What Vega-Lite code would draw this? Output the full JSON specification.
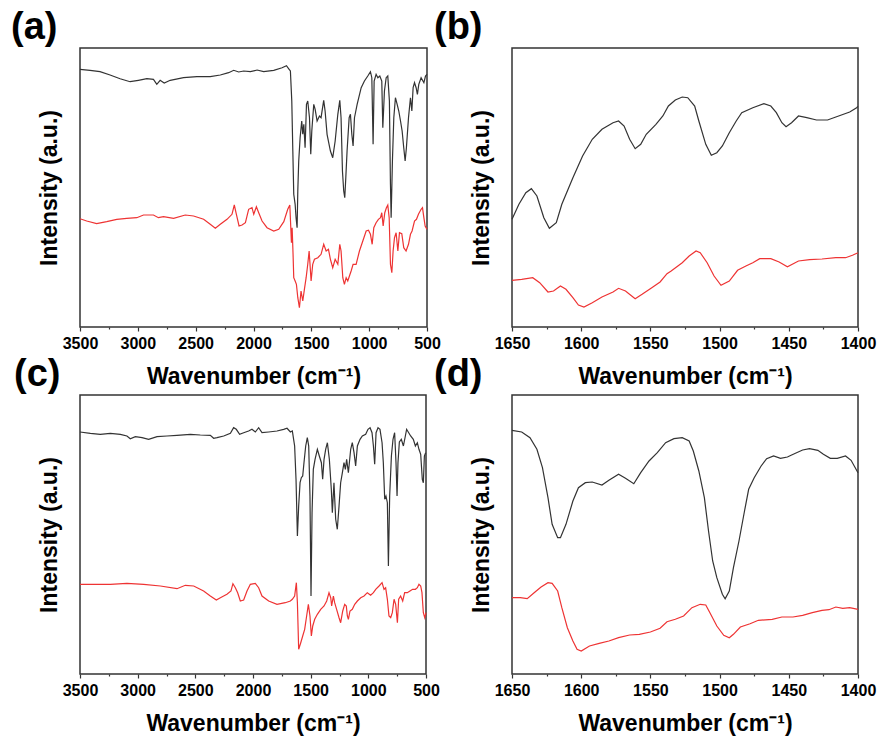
{
"$schema": "https://vega.github.io/schema/vega-lite/v6.json",
"padding": {"left": 10, "top": 8, "right": 5, "bottom": 5},
"background": "white",
"config": {
  "font": "Liberation Sans",
  "view": {"stroke": "#333333", "strokeWidth": 1.5},
  "axis": {"grid": false, "domain": false, "labelColor": "black", "titleColor": "black", "tickColor": "#333333", "tickWidth": 1.2},
  "axisX": {"labelFontSize": 16, "labelFontWeight": "bold", "labelPadding": 4, "titleFontSize": 23, "titleFontWeight": "bold", "titlePadding": 14, "labelFlush": false, "labelOverlap": false},
  "axisY": {"labels": false, "ticks": false, "titleFontSize": 23, "titleFontWeight": "bold", "titlePadding": 19},
  "title": {"fontSize": 38, "fontWeight": "bold", "color": "black", "anchor": "start", "frame": "group", "dy": 3},
  "line": {"strokeWidth": 1.2, "clip": true}
},
"datasets": {
"a": [
{"s":"k","w":3500,"y":257.7},{"s":"k","w":3413,"y":256.7},{"s":"k","w":3327,"y":255.3},{"s":"k","w":3240,"y":252},{"s":"k","w":3153,"y":248.3},{"s":"k","w":3067,"y":245.3},{"s":"k","w":2995,"y":246.7},{"s":"k","w":2922,"y":248.3},{"s":"k","w":2865,"y":247.7},{"s":"k","w":2836,"y":242.7},{"s":"k","w":2807,"y":246.7},{"s":"k","w":2772,"y":244},{"s":"k","w":2720,"y":246.7},{"s":"k","w":2605,"y":249.3},{"s":"k","w":2489,"y":250.3},{"s":"k","w":2374,"y":250.3},{"s":"k","w":2287,"y":252},{"s":"k","w":2215,"y":254.3},{"s":"k","w":2171,"y":256.7},{"s":"k","w":2128,"y":255},{"s":"k","w":2085,"y":256},{"s":"k","w":2027,"y":255.3},{"s":"k","w":1969,"y":257},{"s":"k","w":1912,"y":255.3},{"s":"k","w":1825,"y":256.7},{"s":"k","w":1753,"y":259.3},{"s":"k","w":1715,"y":261.3},{"s":"k","w":1692,"y":257.7},{"s":"k","w":1681,"y":256},{"s":"k","w":1669,"y":226},{"s":"k","w":1660,"y":176},{"s":"k","w":1652,"y":132.7},{"s":"k","w":1640,"y":122.7},{"s":"k","w":1632,"y":109.3},{"s":"k","w":1623,"y":99.3},{"s":"k","w":1617,"y":136},{"s":"k","w":1609,"y":166},{"s":"k","w":1597,"y":189.3},{"s":"k","w":1583,"y":206},{"s":"k","w":1574,"y":192.7},{"s":"k","w":1565,"y":202.7},{"s":"k","w":1554,"y":179.3},{"s":"k","w":1542,"y":222.7},{"s":"k","w":1531,"y":226},{"s":"k","w":1516,"y":209.3},{"s":"k","w":1505,"y":172.7},{"s":"k","w":1496,"y":196},{"s":"k","w":1479,"y":222.7},{"s":"k","w":1467,"y":217.7},{"s":"k","w":1450,"y":206},{"s":"k","w":1430,"y":211},{"s":"k","w":1416,"y":209.3},{"s":"k","w":1393,"y":226.7},{"s":"k","w":1381,"y":216},{"s":"k","w":1364,"y":192.7},{"s":"k","w":1335,"y":176},{"s":"k","w":1315,"y":169.3},{"s":"k","w":1294,"y":186},{"s":"k","w":1271,"y":212.7},{"s":"k","w":1254,"y":226.7},{"s":"k","w":1243,"y":209.3},{"s":"k","w":1231,"y":156},{"s":"k","w":1220,"y":136},{"s":"k","w":1211,"y":129.3},{"s":"k","w":1202,"y":149.3},{"s":"k","w":1191,"y":176},{"s":"k","w":1173,"y":209.3},{"s":"k","w":1162,"y":212.7},{"s":"k","w":1150,"y":192.7},{"s":"k","w":1139,"y":181},{"s":"k","w":1127,"y":209.3},{"s":"k","w":1104,"y":222.7},{"s":"k","w":1069,"y":239.3},{"s":"k","w":1041,"y":246},{"s":"k","w":1012,"y":251},{"s":"k","w":989,"y":255.3},{"s":"k","w":977,"y":249.3},{"s":"k","w":966,"y":182.7},{"s":"k","w":957,"y":246},{"s":"k","w":940,"y":252.7},{"s":"k","w":925,"y":249.3},{"s":"k","w":908,"y":251},{"s":"k","w":891,"y":246},{"s":"k","w":882,"y":199.3},{"s":"k","w":868,"y":236},{"s":"k","w":853,"y":249.3},{"s":"k","w":839,"y":251},{"s":"k","w":825,"y":226},{"s":"k","w":816,"y":142.7},{"s":"k","w":810,"y":109.3},{"s":"k","w":799,"y":166},{"s":"k","w":787,"y":209.3},{"s":"k","w":773,"y":229.3},{"s":"k","w":758,"y":222.7},{"s":"k","w":744,"y":216},{"s":"k","w":729,"y":206},{"s":"k","w":715,"y":196},{"s":"k","w":701,"y":179.3},{"s":"k","w":689,"y":166},{"s":"k","w":678,"y":179.3},{"s":"k","w":660,"y":209.3},{"s":"k","w":643,"y":229.3},{"s":"k","w":631,"y":216},{"s":"k","w":620,"y":239.3},{"s":"k","w":608,"y":244.3},{"s":"k","w":594,"y":239.3},{"s":"k","w":583,"y":232.7},{"s":"k","w":571,"y":242.7},{"s":"k","w":551,"y":249.3},{"s":"k","w":527,"y":244.3},{"s":"k","w":513,"y":251},{"s":"k","w":500,"y":252.7},
{"s":"r","w":3500,"y":108.3},{"s":"r","w":3442,"y":106},{"s":"r","w":3356,"y":103.3},{"s":"r","w":3269,"y":105.3},{"s":"r","w":3182,"y":107.7},{"s":"r","w":3096,"y":108.7},{"s":"r","w":3009,"y":109.3},{"s":"r","w":2951,"y":112},{"s":"r","w":2865,"y":112},{"s":"r","w":2822,"y":109.3},{"s":"r","w":2778,"y":110.3},{"s":"r","w":2691,"y":108.7},{"s":"r","w":2590,"y":112},{"s":"r","w":2518,"y":111},{"s":"r","w":2431,"y":107.7},{"s":"r","w":2374,"y":102.7},{"s":"r","w":2330,"y":98.7},{"s":"r","w":2287,"y":102.7},{"s":"r","w":2229,"y":107.7},{"s":"r","w":2186,"y":112.7},{"s":"r","w":2166,"y":122},{"s":"r","w":2148,"y":112.7},{"s":"r","w":2125,"y":101},{"s":"r","w":2099,"y":102},{"s":"r","w":2070,"y":104.3},{"s":"r","w":2042,"y":117.7},{"s":"r","w":2013,"y":119.3},{"s":"r","w":1998,"y":112.7},{"s":"r","w":1975,"y":120.3},{"s":"r","w":1955,"y":114.3},{"s":"r","w":1926,"y":106},{"s":"r","w":1883,"y":99.3},{"s":"r","w":1825,"y":96},{"s":"r","w":1782,"y":97.7},{"s":"r","w":1738,"y":105.3},{"s":"r","w":1704,"y":117.7},{"s":"r","w":1686,"y":122},{"s":"r","w":1672,"y":84.3},{"s":"r","w":1666,"y":99.3},{"s":"r","w":1658,"y":72.7},{"s":"r","w":1652,"y":49.3},{"s":"r","w":1640,"y":46},{"s":"r","w":1629,"y":42.7},{"s":"r","w":1617,"y":29.3},{"s":"r","w":1603,"y":19.3},{"s":"r","w":1589,"y":36},{"s":"r","w":1574,"y":26},{"s":"r","w":1560,"y":37.7},{"s":"r","w":1545,"y":49.3},{"s":"r","w":1531,"y":62.7},{"s":"r","w":1519,"y":76},{"s":"r","w":1502,"y":46},{"s":"r","w":1488,"y":62.7},{"s":"r","w":1473,"y":67.7},{"s":"r","w":1444,"y":69.3},{"s":"r","w":1416,"y":72.7},{"s":"r","w":1393,"y":82.7},{"s":"r","w":1372,"y":76},{"s":"r","w":1352,"y":77.7},{"s":"r","w":1335,"y":67.7},{"s":"r","w":1315,"y":59.3},{"s":"r","w":1294,"y":67.7},{"s":"r","w":1271,"y":62.7},{"s":"r","w":1254,"y":82.7},{"s":"r","w":1243,"y":76},{"s":"r","w":1228,"y":49.3},{"s":"r","w":1214,"y":42.7},{"s":"r","w":1199,"y":49.3},{"s":"r","w":1185,"y":46},{"s":"r","w":1156,"y":56},{"s":"r","w":1139,"y":62.7},{"s":"r","w":1113,"y":62.7},{"s":"r","w":1084,"y":76},{"s":"r","w":1055,"y":86},{"s":"r","w":1026,"y":96},{"s":"r","w":1006,"y":96.7},{"s":"r","w":989,"y":92.7},{"s":"r","w":974,"y":82.7},{"s":"r","w":960,"y":99.3},{"s":"r","w":940,"y":104.3},{"s":"r","w":920,"y":107.7},{"s":"r","w":902,"y":109.3},{"s":"r","w":891,"y":114.3},{"s":"r","w":879,"y":101},{"s":"r","w":865,"y":114.3},{"s":"r","w":851,"y":119.3},{"s":"r","w":839,"y":122},{"s":"r","w":827,"y":109.3},{"s":"r","w":816,"y":62.7},{"s":"r","w":804,"y":54.3},{"s":"r","w":793,"y":76},{"s":"r","w":781,"y":89.3},{"s":"r","w":767,"y":94.3},{"s":"r","w":752,"y":76},{"s":"r","w":738,"y":94.3},{"s":"r","w":718,"y":93.3},{"s":"r","w":701,"y":79.3},{"s":"r","w":681,"y":76},{"s":"r","w":660,"y":82.7},{"s":"r","w":643,"y":92.7},{"s":"r","w":629,"y":96},{"s":"r","w":608,"y":106},{"s":"r","w":591,"y":107.7},{"s":"r","w":574,"y":112.7},{"s":"r","w":551,"y":117.7},{"s":"r","w":539,"y":119.3},{"s":"r","w":527,"y":109.3},{"s":"r","w":516,"y":101},{"s":"r","w":501,"y":97.7}
],
"b": [
{"s":"k","w":1650,"y":107.7},{"s":"k","w":1645,"y":122.7},{"s":"k","w":1640,"y":134.3},{"s":"k","w":1636,"y":138.3},{"s":"k","w":1632,"y":131},{"s":"k","w":1627,"y":109.3},{"s":"k","w":1623,"y":98.7},{"s":"k","w":1618,"y":104.3},{"s":"k","w":1614,"y":122.7},{"s":"k","w":1606,"y":149.3},{"s":"k","w":1599,"y":171},{"s":"k","w":1592,"y":187.7},{"s":"k","w":1585,"y":197.7},{"s":"k","w":1577,"y":204.3},{"s":"k","w":1573,"y":206},{"s":"k","w":1569,"y":201},{"s":"k","w":1565,"y":187.7},{"s":"k","w":1561,"y":178.3},{"s":"k","w":1557,"y":182.7},{"s":"k","w":1553,"y":192.7},{"s":"k","w":1546,"y":202.7},{"s":"k","w":1541,"y":211},{"s":"k","w":1537,"y":221},{"s":"k","w":1532,"y":227},{"s":"k","w":1527,"y":230},{"s":"k","w":1523,"y":229.3},{"s":"k","w":1518,"y":221},{"s":"k","w":1515,"y":206},{"s":"k","w":1510,"y":182.7},{"s":"k","w":1506,"y":171.7},{"s":"k","w":1502,"y":174.3},{"s":"k","w":1498,"y":181},{"s":"k","w":1493,"y":194.3},{"s":"k","w":1488,"y":206},{"s":"k","w":1484,"y":214.3},{"s":"k","w":1476,"y":219.3},{"s":"k","w":1468,"y":223.3},{"s":"k","w":1463,"y":221},{"s":"k","w":1459,"y":214.3},{"s":"k","w":1455,"y":204.3},{"s":"k","w":1452,"y":200.3},{"s":"k","w":1448,"y":204.3},{"s":"k","w":1443,"y":211},{"s":"k","w":1437,"y":209.3},{"s":"k","w":1430,"y":207},{"s":"k","w":1422,"y":207},{"s":"k","w":1414,"y":211},{"s":"k","w":1406,"y":215},{"s":"k","w":1401,"y":219.3},{"s":"k","w":1400,"y":220.7},
{"s":"r","w":1650,"y":46.7},{"s":"r","w":1643,"y":47.7},{"s":"r","w":1635,"y":49.3},{"s":"r","w":1630,"y":44.3},{"s":"r","w":1624,"y":35},{"s":"r","w":1620,"y":36},{"s":"r","w":1615,"y":41},{"s":"r","w":1611,"y":37.7},{"s":"r","w":1606,"y":29.3},{"s":"r","w":1602,"y":22},{"s":"r","w":1598,"y":20},{"s":"r","w":1592,"y":24.3},{"s":"r","w":1585,"y":30},{"s":"r","w":1577,"y":35},{"s":"r","w":1573,"y":38.7},{"s":"r","w":1568,"y":36},{"s":"r","w":1561,"y":28.3},{"s":"r","w":1556,"y":32.7},{"s":"r","w":1549,"y":39.3},{"s":"r","w":1543,"y":45},{"s":"r","w":1538,"y":53.3},{"s":"r","w":1535,"y":56},{"s":"r","w":1527,"y":64.3},{"s":"r","w":1522,"y":71},{"s":"r","w":1517,"y":76},{"s":"r","w":1514,"y":74.3},{"s":"r","w":1509,"y":64.3},{"s":"r","w":1504,"y":51},{"s":"r","w":1499,"y":41.7},{"s":"r","w":1493,"y":46},{"s":"r","w":1487,"y":56.7},{"s":"r","w":1481,"y":61},{"s":"r","w":1476,"y":64.3},{"s":"r","w":1471,"y":68.3},{"s":"r","w":1463,"y":68.3},{"s":"r","w":1457,"y":65},{"s":"r","w":1451,"y":60.3},{"s":"r","w":1443,"y":66},{"s":"r","w":1435,"y":67.3},{"s":"r","w":1426,"y":68},{"s":"r","w":1416,"y":69.3},{"s":"r","w":1409,"y":69.3},{"s":"r","w":1404,"y":71.7},{"s":"r","w":1400,"y":74.3}
],
"c": [
{"s":"k","w":3500,"y":242},{"s":"k","w":3410,"y":240.7},{"s":"k","w":3324,"y":239.7},{"s":"k","w":3237,"y":240.7},{"s":"k","w":3150,"y":239.7},{"s":"k","w":3093,"y":238},{"s":"k","w":3064,"y":235.3},{"s":"k","w":3020,"y":237.3},{"s":"k","w":2962,"y":236.3},{"s":"k","w":2905,"y":234.7},{"s":"k","w":2832,"y":237.3},{"s":"k","w":2746,"y":238},{"s":"k","w":2659,"y":238.7},{"s":"k","w":2543,"y":239.7},{"s":"k","w":2457,"y":239},{"s":"k","w":2370,"y":238.7},{"s":"k","w":2341,"y":235.7},{"s":"k","w":2312,"y":236.3},{"s":"k","w":2254,"y":238},{"s":"k","w":2196,"y":240.7},{"s":"k","w":2168,"y":246.3},{"s":"k","w":2145,"y":244.7},{"s":"k","w":2116,"y":239.7},{"s":"k","w":2081,"y":241.3},{"s":"k","w":2038,"y":243},{"s":"k","w":2009,"y":244.7},{"s":"k","w":1980,"y":242},{"s":"k","w":1951,"y":246.3},{"s":"k","w":1922,"y":241.3},{"s":"k","w":1864,"y":242},{"s":"k","w":1792,"y":243},{"s":"k","w":1734,"y":244.7},{"s":"k","w":1705,"y":245.7},{"s":"k","w":1676,"y":242},{"s":"k","w":1659,"y":243},{"s":"k","w":1639,"y":228},{"s":"k","w":1627,"y":194.7},{"s":"k","w":1615,"y":138},{"s":"k","w":1604,"y":168},{"s":"k","w":1592,"y":191.3},{"s":"k","w":1581,"y":196.3},{"s":"k","w":1569,"y":198},{"s":"k","w":1558,"y":211.3},{"s":"k","w":1543,"y":228},{"s":"k","w":1529,"y":236.3},{"s":"k","w":1517,"y":228},{"s":"k","w":1506,"y":178},{"s":"k","w":1497,"y":78},{"s":"k","w":1488,"y":161.3},{"s":"k","w":1477,"y":204.7},{"s":"k","w":1462,"y":214.7},{"s":"k","w":1442,"y":224.7},{"s":"k","w":1425,"y":218},{"s":"k","w":1407,"y":211.3},{"s":"k","w":1396,"y":194.7},{"s":"k","w":1384,"y":214.7},{"s":"k","w":1370,"y":224.7},{"s":"k","w":1355,"y":231.3},{"s":"k","w":1338,"y":214.7},{"s":"k","w":1321,"y":184.7},{"s":"k","w":1312,"y":161.3},{"s":"k","w":1298,"y":191.3},{"s":"k","w":1283,"y":154.7},{"s":"k","w":1269,"y":144.7},{"s":"k","w":1254,"y":168},{"s":"k","w":1240,"y":191.3},{"s":"k","w":1225,"y":201.3},{"s":"k","w":1211,"y":211.3},{"s":"k","w":1199,"y":204.7},{"s":"k","w":1188,"y":214.7},{"s":"k","w":1173,"y":201.3},{"s":"k","w":1153,"y":224.7},{"s":"k","w":1139,"y":231.3},{"s":"k","w":1124,"y":221.3},{"s":"k","w":1110,"y":208},{"s":"k","w":1095,"y":228},{"s":"k","w":1072,"y":234.7},{"s":"k","w":1052,"y":238},{"s":"k","w":1023,"y":239.7},{"s":"k","w":1003,"y":244.7},{"s":"k","w":985,"y":246.3},{"s":"k","w":968,"y":241.3},{"s":"k","w":956,"y":228},{"s":"k","w":945,"y":209.7},{"s":"k","w":933,"y":241.3},{"s":"k","w":916,"y":246.3},{"s":"k","w":899,"y":244.7},{"s":"k","w":881,"y":231.3},{"s":"k","w":870,"y":211.3},{"s":"k","w":858,"y":174.7},{"s":"k","w":847,"y":178},{"s":"k","w":835,"y":171.3},{"s":"k","w":826,"y":108},{"s":"k","w":815,"y":178},{"s":"k","w":800,"y":218},{"s":"k","w":786,"y":234.7},{"s":"k","w":772,"y":241.3},{"s":"k","w":760,"y":211.3},{"s":"k","w":751,"y":178},{"s":"k","w":743,"y":211.3},{"s":"k","w":731,"y":232},{"s":"k","w":714,"y":234.7},{"s":"k","w":696,"y":228},{"s":"k","w":679,"y":238},{"s":"k","w":668,"y":244.7},{"s":"k","w":650,"y":241.3},{"s":"k","w":633,"y":238},{"s":"k","w":610,"y":234.7},{"s":"k","w":592,"y":228},{"s":"k","w":575,"y":231.3},{"s":"k","w":561,"y":224.7},{"s":"k","w":546,"y":219.7},{"s":"k","w":532,"y":194.7},{"s":"k","w":523,"y":191.3},{"s":"k","w":514,"y":218},{"s":"k","w":503,"y":221.3},
{"s":"r","w":3500,"y":89.7},{"s":"r","w":3382,"y":89.7},{"s":"r","w":3237,"y":89.7},{"s":"r","w":3093,"y":90.7},{"s":"r","w":2948,"y":89.7},{"s":"r","w":2803,"y":88},{"s":"r","w":2659,"y":85.3},{"s":"r","w":2587,"y":88.7},{"s":"r","w":2514,"y":88},{"s":"r","w":2428,"y":83},{"s":"r","w":2370,"y":78},{"s":"r","w":2318,"y":74},{"s":"r","w":2283,"y":76.3},{"s":"r","w":2226,"y":79.7},{"s":"r","w":2191,"y":83},{"s":"r","w":2174,"y":90.3},{"s":"r","w":2153,"y":86.3},{"s":"r","w":2133,"y":81.3},{"s":"r","w":2110,"y":73},{"s":"r","w":2081,"y":74},{"s":"r","w":2052,"y":83},{"s":"r","w":2023,"y":89.7},{"s":"r","w":1980,"y":90.7},{"s":"r","w":1951,"y":86.3},{"s":"r","w":1922,"y":78},{"s":"r","w":1864,"y":73},{"s":"r","w":1792,"y":69.7},{"s":"r","w":1720,"y":71.3},{"s":"r","w":1676,"y":73},{"s":"r","w":1659,"y":74.7},{"s":"r","w":1639,"y":78},{"s":"r","w":1624,"y":91.3},{"s":"r","w":1615,"y":71.3},{"s":"r","w":1604,"y":24.7},{"s":"r","w":1586,"y":31.3},{"s":"r","w":1569,"y":38},{"s":"r","w":1552,"y":44.7},{"s":"r","w":1535,"y":58},{"s":"r","w":1520,"y":69.7},{"s":"r","w":1506,"y":58},{"s":"r","w":1494,"y":38},{"s":"r","w":1482,"y":48},{"s":"r","w":1465,"y":54.7},{"s":"r","w":1442,"y":59.7},{"s":"r","w":1413,"y":64.7},{"s":"r","w":1384,"y":68},{"s":"r","w":1361,"y":73},{"s":"r","w":1341,"y":81.3},{"s":"r","w":1326,"y":76.3},{"s":"r","w":1318,"y":68},{"s":"r","w":1303,"y":78},{"s":"r","w":1292,"y":71.3},{"s":"r","w":1275,"y":64.7},{"s":"r","w":1254,"y":56.3},{"s":"r","w":1240,"y":51.3},{"s":"r","w":1222,"y":63},{"s":"r","w":1205,"y":69.7},{"s":"r","w":1191,"y":68},{"s":"r","w":1182,"y":58},{"s":"r","w":1173,"y":54.7},{"s":"r","w":1159,"y":63},{"s":"r","w":1139,"y":64.7},{"s":"r","w":1118,"y":69.7},{"s":"r","w":1095,"y":73},{"s":"r","w":1066,"y":76.3},{"s":"r","w":1037,"y":78},{"s":"r","w":1009,"y":81.3},{"s":"r","w":980,"y":78.7},{"s":"r","w":956,"y":81.3},{"s":"r","w":936,"y":84.7},{"s":"r","w":907,"y":88},{"s":"r","w":881,"y":91.3},{"s":"r","w":864,"y":84.7},{"s":"r","w":850,"y":86.3},{"s":"r","w":835,"y":74.7},{"s":"r","w":821,"y":58},{"s":"r","w":806,"y":56.3},{"s":"r","w":792,"y":61.3},{"s":"r","w":777,"y":74.7},{"s":"r","w":763,"y":69.7},{"s":"r","w":748,"y":51.3},{"s":"r","w":737,"y":74.7},{"s":"r","w":720,"y":78},{"s":"r","w":702,"y":73},{"s":"r","w":685,"y":81.3},{"s":"r","w":662,"y":81.3},{"s":"r","w":639,"y":83},{"s":"r","w":616,"y":84.7},{"s":"r","w":592,"y":84.7},{"s":"r","w":575,"y":86.3},{"s":"r","w":561,"y":89.7},{"s":"r","w":546,"y":88},{"s":"r","w":535,"y":81.3},{"s":"r","w":523,"y":61.3},{"s":"r","w":511,"y":56.3},{"s":"r","w":500,"y":61.3}
],
"d": [
{"s":"k","w":1650,"y":243.7},{"s":"k","w":1643,"y":242},{"s":"k","w":1637,"y":236.3},{"s":"k","w":1632,"y":224.7},{"s":"k","w":1628,"y":206.3},{"s":"k","w":1624,"y":176.3},{"s":"k","w":1621,"y":149.7},{"s":"k","w":1617,"y":136.3},{"s":"k","w":1615,"y":136.3},{"s":"k","w":1611,"y":149.7},{"s":"k","w":1606,"y":173},{"s":"k","w":1602,"y":186.3},{"s":"k","w":1597,"y":191.3},{"s":"k","w":1592,"y":192},{"s":"k","w":1585,"y":189},{"s":"k","w":1580,"y":193.7},{"s":"k","w":1573,"y":199.7},{"s":"k","w":1568,"y":195.7},{"s":"k","w":1562,"y":190.3},{"s":"k","w":1557,"y":201.3},{"s":"k","w":1551,"y":213},{"s":"k","w":1545,"y":221.3},{"s":"k","w":1539,"y":231.3},{"s":"k","w":1533,"y":235.3},{"s":"k","w":1527,"y":236.3},{"s":"k","w":1522,"y":233},{"s":"k","w":1519,"y":223},{"s":"k","w":1515,"y":203},{"s":"k","w":1511,"y":176.3},{"s":"k","w":1508,"y":143},{"s":"k","w":1505,"y":113},{"s":"k","w":1502,"y":96.3},{"s":"k","w":1498,"y":79.7},{"s":"k","w":1496,"y":75.3},{"s":"k","w":1493,"y":83},{"s":"k","w":1490,"y":106.3},{"s":"k","w":1486,"y":133},{"s":"k","w":1482,"y":163},{"s":"k","w":1479,"y":184.7},{"s":"k","w":1475,"y":196.3},{"s":"k","w":1470,"y":208},{"s":"k","w":1466,"y":215.3},{"s":"k","w":1461,"y":218},{"s":"k","w":1456,"y":215.7},{"s":"k","w":1451,"y":217},{"s":"k","w":1446,"y":220.3},{"s":"k","w":1440,"y":224},{"s":"k","w":1435,"y":225.3},{"s":"k","w":1429,"y":223.7},{"s":"k","w":1425,"y":219.7},{"s":"k","w":1420,"y":215.7},{"s":"k","w":1415,"y":215.7},{"s":"k","w":1409,"y":218},{"s":"k","w":1405,"y":213.7},{"s":"k","w":1400,"y":201.3},
{"s":"r","w":1650,"y":76.3},{"s":"r","w":1644,"y":76.3},{"s":"r","w":1639,"y":75.3},{"s":"r","w":1634,"y":81.3},{"s":"r","w":1629,"y":87},{"s":"r","w":1624,"y":91.3},{"s":"r","w":1621,"y":90.7},{"s":"r","w":1617,"y":83},{"s":"r","w":1614,"y":66.3},{"s":"r","w":1610,"y":46.3},{"s":"r","w":1606,"y":33},{"s":"r","w":1603,"y":24.7},{"s":"r","w":1600,"y":23},{"s":"r","w":1594,"y":28},{"s":"r","w":1587,"y":30.7},{"s":"r","w":1580,"y":33},{"s":"r","w":1573,"y":36.3},{"s":"r","w":1565,"y":39},{"s":"r","w":1558,"y":39.7},{"s":"r","w":1550,"y":42},{"s":"r","w":1543,"y":45.7},{"s":"r","w":1538,"y":52.3},{"s":"r","w":1532,"y":54.7},{"s":"r","w":1526,"y":58},{"s":"r","w":1520,"y":66.3},{"s":"r","w":1514,"y":69.7},{"s":"r","w":1510,"y":69},{"s":"r","w":1507,"y":61.3},{"s":"r","w":1502,"y":48},{"s":"r","w":1497,"y":38.7},{"s":"r","w":1493,"y":36.3},{"s":"r","w":1490,"y":39.7},{"s":"r","w":1485,"y":47},{"s":"r","w":1478,"y":50.3},{"s":"r","w":1472,"y":53.7},{"s":"r","w":1462,"y":54.7},{"s":"r","w":1455,"y":57},{"s":"r","w":1447,"y":57},{"s":"r","w":1440,"y":58.7},{"s":"r","w":1433,"y":61.3},{"s":"r","w":1426,"y":63.7},{"s":"r","w":1421,"y":64.3},{"s":"r","w":1416,"y":67},{"s":"r","w":1411,"y":65.7},{"s":"r","w":1406,"y":66.3},{"s":"r","w":1400,"y":64.7}
]
},
"bounds": "flush",
"columns": 2,
"spacing": {"row": 68, "column": 85},
"concat": [
  {"width": 347, "height": 279, "title": {"text": "(a)", "dx": -69}, "data": {"name": "a"}, "mark": "line",
   "encoding": {
    "x": {"field": "w", "type": "quantitative", "scale": {"domain": [500, 3500], "reverse": true, "nice": false, "zero": false},
          "axis": {"title": "Wavenumber (cm⁻¹)", "values": [3500,3250,3000,2750,2500,2250,2000,1750,1500,1250,1000,750,500], "format": "d", "labelExpr": "datum.value % 500 === 0 ? datum.label : ''", "tickSize": {"condition": {"test": "datum.value % 500 !== 0", "value": 2}, "value": 4}}},
    "y": {"field": "y", "type": "quantitative", "scale": {"domain": [0, 279], "nice": false}, "axis": {"title": "Intensity (a.u.)"}},
    "color": {"field": "s", "type": "nominal", "scale": {"domain": ["k", "r"], "range": ["#333333", "#ee3333"]}, "legend": null}
   }},
  {"width": 346, "height": 279, "title": {"text": "(b)", "dx": -78}, "data": {"name": "b"}, "mark": "line",
   "encoding": {
    "x": {"field": "w", "type": "quantitative", "scale": {"domain": [1400, 1650], "reverse": true, "nice": false, "zero": false},
          "axis": {"title": "Wavenumber (cm⁻¹)", "values": [1650,1625,1600,1575,1550,1525,1500,1475,1450,1425,1400], "format": "d", "labelExpr": "datum.value % 50 === 0 ? datum.label : ''", "tickSize": {"condition": {"test": "datum.value % 50 !== 0", "value": 2}, "value": 4}}},
    "y": {"field": "y", "type": "quantitative", "scale": {"domain": [0, 279], "nice": false}, "axis": {"title": "Intensity (a.u.)"}},
    "color": {"field": "s", "type": "nominal", "scale": {"domain": ["k", "r"], "range": ["#333333", "#ee3333"]}, "legend": null}
   }},
  {"width": 346, "height": 279, "title": {"text": "(c)", "dx": -66}, "data": {"name": "c"}, "mark": "line",
   "encoding": {
    "x": {"field": "w", "type": "quantitative", "scale": {"domain": [500, 3500], "reverse": true, "nice": false, "zero": false},
          "axis": {"title": "Wavenumber (cm⁻¹)", "values": [3500,3250,3000,2750,2500,2250,2000,1750,1500,1250,1000,750,500], "format": "d", "labelExpr": "datum.value % 500 === 0 ? datum.label : ''", "tickSize": {"condition": {"test": "datum.value % 500 !== 0", "value": 2}, "value": 4}}},
    "y": {"field": "y", "type": "quantitative", "scale": {"domain": [0, 279], "nice": false}, "axis": {"title": "Intensity (a.u.)"}},
    "color": {"field": "s", "type": "nominal", "scale": {"domain": ["k", "r"], "range": ["#333333", "#ee3333"]}, "legend": null}
   }},
  {"width": 346, "height": 279, "title": {"text": "(d)", "dx": -78}, "data": {"name": "d"}, "mark": "line",
   "encoding": {
    "x": {"field": "w", "type": "quantitative", "scale": {"domain": [1400, 1650], "reverse": true, "nice": false, "zero": false},
          "axis": {"title": "Wavenumber (cm⁻¹)", "values": [1650,1625,1600,1575,1550,1525,1500,1475,1450,1425,1400], "format": "d", "labelExpr": "datum.value % 50 === 0 ? datum.label : ''", "tickSize": {"condition": {"test": "datum.value % 50 !== 0", "value": 2}, "value": 4}}},
    "y": {"field": "y", "type": "quantitative", "scale": {"domain": [0, 279], "nice": false}, "axis": {"title": "Intensity (a.u.)"}},
    "color": {"field": "s", "type": "nominal", "scale": {"domain": ["k", "r"], "range": ["#333333", "#ee3333"]}, "legend": null}
   }}
]
}
